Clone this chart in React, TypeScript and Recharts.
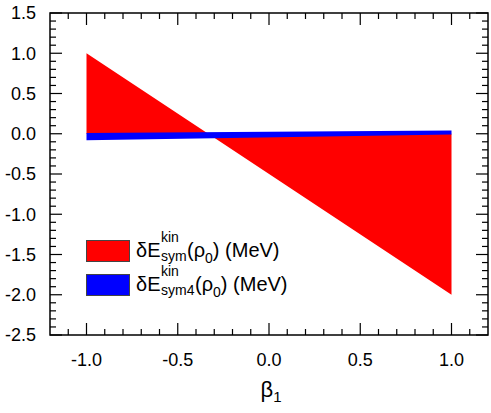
import { AreaChart, Area, XAxis, YAxis, Legend, ReferenceArea } from "recharts";

// beta_1 sample points (x), band limits
const betaValues = [-1.0, -0.333, 1.0];
const symLow = [0.0, 0.0, -2.0];
const symHigh = [1.0, 0.0, 0.0];
const sym4Low: (number | null)[] = [-0.08, null, -0.01];
const sym4High: (number | null)[] = [0.01, null, 0.04];

// major (labelled) and minor ticks
const xMajor = [-1.0, -0.5, 0.0, 0.5, 1.0];
const xMinor = [-1.1, -0.9, -0.8, -0.7, -0.6, -0.4, -0.3, -0.2, -0.1, 0.1, 0.2, 0.3, 0.4, 0.6, 0.7, 0.8, 0.9, 1.1];
const yMajor = [-2.5, -2.0, -1.5, -1.0, -0.5, 0.0, 0.5, 1.0, 1.5];
const yMinor = [
  -2.4, -2.3, -2.2, -2.1, -1.9, -1.8, -1.7, -1.6, -1.4, -1.3, -1.2, -1.1,
  -0.9, -0.8, -0.7, -0.6, -0.4, -0.3, -0.2, -0.1, 0.1, 0.2, 0.3, 0.4,
  0.6, 0.7, 0.8, 0.9, 1.1, 1.2, 1.3, 1.4,
];

const legendRows = [
  { color: "#ff0000", sub: "sym", parenX: 51 },
  { color: "#0000ff", sub: "sym4", parenX: 59 },
];

const data = betaValues.map((beta, i) => ({
  beta,
  sym: [symLow[i], symHigh[i]],
  sym4: sym4Low[i] == null ? null : [sym4Low[i], sym4High[i]],
}));

const xTicks = [...xMajor, ...xMinor].sort((a, b) => a - b);
const yTicks = [...yMajor, ...yMinor].sort((a, b) => a - b);

const FONT = "'Liberation Sans', Arial, sans-serif";
const INK = "#000";
const MAJOR = 12;
const MINOR = 6;
const W = 1.2;

const isMajor = (v: number) => Math.abs(v * 2 - Math.round(v * 2)) < 1e-6;

// tick mark drawn at the axis' own tick coordinate, pointing into the plot
const makeTick = (side: "bottom" | "top" | "left" | "right", labelled: boolean) => (props: any) => {
  const { x, y, payload } = props;
  const v = payload.value as number;
  const len = isMajor(v) ? MAJOR : MINOR;
  let r;
  if (side === "bottom") r = { x: x - W / 2, y: y - len, width: W, height: len };
  else if (side === "top") r = { x: x - W / 2, y, width: W, height: len };
  else if (side === "left") r = { x, y: y - W / 2, width: len, height: W };
  else r = { x: x - len, y: y - W / 2, width: len, height: W };
  return (
    <g>
      <rect {...r} fill={INK} />
      {labelled && isMajor(v) && side === "bottom" && (
        <text x={x} y={y + 18} dy="0.71em" textAnchor="middle" fontFamily={FONT} fontSize={18} fill="#000">
          {v.toFixed(1)}
        </text>
      )}
      {labelled && isMajor(v) && side === "left" && (
        <text x={x - 14} y={y} dy="0.355em" textAnchor="end" fontFamily={FONT} fontSize={18} fill="#000">
          {v.toFixed(1)}
        </text>
      )}
    </g>
  );
};

function LegendLabel({ sub, parenX }: { sub: string; parenX: number }) {
  return (
    <svg width={180} height={30} style={{ display: "block", overflow: "visible" }}>
      <g fontFamily={FONT} fill="#000">
        <text x={0} y={21} fontSize={20}>δE</text>
        <text x={25} y={6} fontSize={14}>kin</text>
        <text x={25} y={25} fontSize={14}>{sub}</text>
        <text x={parenX} y={21} fontSize={20}>
          (ρ<tspan fontSize={14} dy={6}>0</tspan>
          <tspan dy={-6} fontSize={20}>) (MeV)</tspan>
        </text>
      </g>
    </svg>
  );
}

function LegendBox() {
  return (
    <div>
      {legendRows.map((r) => (
        <div key={r.sub} style={{ display: "flex", alignItems: "center", height: 30, marginBottom: 4 }}>
          <div style={{ width: 42, height: 20, background: r.color, border: "1px solid #444", marginRight: 6 }} />
          <LegendLabel sub={r.sub} parenX={r.parenX} />
        </div>
      ))}
    </div>
  );
}

const BetaLabel = (props: any) => {
  const vb = props.viewBox || {};
  const cx = vb.x + vb.width / 2 + 2;
  return (
    <text x={cx} y={vb.y + 62} textAnchor="middle" fontFamily={FONT} fontSize={22} fill="#000">
      β<tspan fontSize={15} dy={5}>1</tspan>
    </text>
  );
};

const axisCommon = {
  interval: 0 as const,
  tickSize: 0,
  tickMargin: 0,
  axisLine: false,
  tickLine: false,
  allowDataOverflow: true,
};

export default function App() {
  return (
    <div style={{ position: "absolute", left: 0, top: 0, width: 491, height: 413, background: "#fff" }}>
      <AreaChart width={491} height={413} data={data} margin={{ top: 13, right: 3, bottom: 0, left: 0 }}>
        <Area xAxisId="main" yAxisId="main" type="linear" dataKey="sym" fill="#ff0000" fillOpacity={1} stroke="none"
          isAnimationActive={false} />
        <Area xAxisId="main" yAxisId="main" type="linear" dataKey="sym4" fill="#0000ff" fillOpacity={1} stroke="none"
          connectNulls isAnimationActive={false} />

        {/* plot frame */}
        <ReferenceArea xAxisId="main" yAxisId="main" x1={-1.2} x2={1.2} y1={-2.5} y2={1.5}
          fill="none" stroke={INK} strokeWidth={1.5} />

        <XAxis
          {...axisCommon}
          xAxisId="main"
          dataKey="beta"
          type="number"
          domain={[-1.2, 1.2]}
          ticks={xTicks}
          height={78}
          tick={makeTick("bottom", true)}
          label={<BetaLabel />}
        />
        <XAxis
          {...axisCommon}
          xAxisId="top"
          dataKey="beta"
          type="number"
          domain={[-1.2, 1.2]}
          ticks={xTicks}
          orientation="top"
          mirror
          height={1}
          tick={makeTick("top", false)}
        />
        <YAxis
          {...axisCommon}
          yAxisId="main"
          type="number"
          domain={[-2.5, 1.5]}
          ticks={yTicks}
          width={50}
          tick={makeTick("left", true)}
        />
        <YAxis
          {...axisCommon}
          yAxisId="right"
          type="number"
          domain={[-2.5, 1.5]}
          ticks={yTicks}
          orientation="right"
          mirror
          width={1}
          tick={makeTick("right", false)}
        />

        <Legend
          layout="vertical"
          align="center"
          verticalAlign="middle"
          content={<LegendBox />}
          wrapperStyle={{ left: 86, top: 236, width: 240, height: 70 }}
        />
      </AreaChart>
    </div>
  );
}
